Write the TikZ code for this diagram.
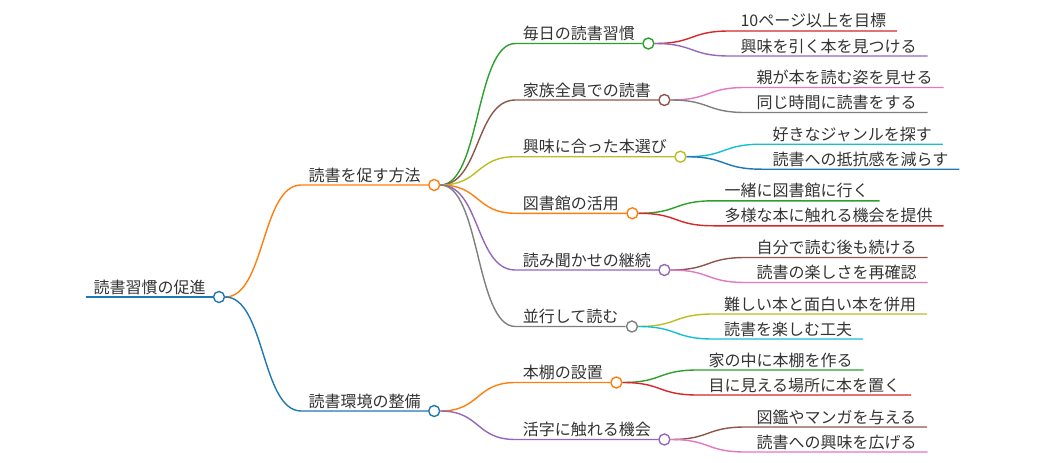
\documentclass[tikz,border=0pt]{standalone}
\usepackage{fontspec}
\setmainfont{Noto Sans CJK JP}
\usepackage{tikz}

\definecolor{cblue}{HTML}{1F77B4}
\definecolor{corange}{HTML}{FF7F0E}
\definecolor{cgreen}{HTML}{2CA02C}
\definecolor{cred}{HTML}{D62728}
\definecolor{cpurple}{HTML}{9467BD}
\definecolor{cbrown}{HTML}{8C564B}
\definecolor{cpink}{HTML}{E377C2}
\definecolor{cgray}{HTML}{7F7F7F}
\definecolor{colive}{HTML}{BCBD22}
\definecolor{ccyan}{HTML}{17BECF}
\definecolor{ctext}{HTML}{333333}

\tikzset{
  topic/.style={anchor=south west, inner xsep=7.5pt, inner ysep=4pt, outer sep=0pt,
    text depth=0pt, text=ctext, font=\fontsize{16}{18}\selectfont},
  leaf/.style={topic, inner xsep=11pt},
  dot/.style={circle, draw, fill=white, minimum size=11pt, inner sep=0pt, line width=1.4pt},
}

\begin{document}
\begin{tikzpicture}[x=1pt, y=-1pt, line width=1.4pt]
\useasboundingbox (0,0) rectangle (1044,463);

%Root of the map
\node[topic] (root) at (86,297) {読書習慣の促進};
\node[dot, draw=cblue] (r0) at ([xshift=6pt]root.south east) {};
\draw[cblue] (root.south west) -- (r0.west);

%First main branch
\node[topic] (m1) at ([xshift=76pt,yshift=112pt]r0.east) {読書を促す方法};
\node[dot, draw=corange] (c1) at ([xshift=6pt]m1.south east) {};
\draw[corange] (r0.east) .. controls +(40,0) and +(-40,0) .. (m1.south west) -- (c1.west);

%Second main branch
\node[topic] (m2) at ([xshift=76pt,yshift=-114pt]r0.east) {読書環境の整備};
\node[dot, draw=cblue] (c2) at ([xshift=6pt]m2.south east) {};
\draw[cblue] (r0.east) .. controls +(40,0) and +(-40,0) .. (m2.south west) -- (c2.west);

%Ways to encourage reading
\node[topic] (s1) at ([xshift=75pt,yshift=141.5pt]c1.east) {毎日の読書習慣};
\node[dot, draw=cgreen] (d1) at ([xshift=6pt]s1.south east) {};
\draw[cgreen] (c1.east) .. controls +(40,0) and +(-40,0) .. (s1.south west) -- (d1.west);

\node[topic] (s2) at ([xshift=75pt,yshift=85pt]c1.east) {家族全員での読書};
\node[dot, draw=cbrown] (d2) at ([xshift=6pt]s2.south east) {};
\draw[cbrown] (c1.east) .. controls +(40,0) and +(-40,0) .. (s2.south west) -- (d2.west);

\node[topic] (s3) at ([xshift=75pt,yshift=28.3pt]c1.east) {興味に合った本選び};
\node[dot, draw=colive] (d3) at ([xshift=6pt]s3.south east) {};
\draw[colive] (c1.east) .. controls +(40,0) and +(-40,0) .. (s3.south west) -- (d3.west);

\node[topic] (s4) at ([xshift=75pt,yshift=-28.3pt]c1.east) {図書館の活用};
\node[dot, draw=corange] (d4) at ([xshift=6pt]s4.south east) {};
\draw[corange] (c1.east) .. controls +(40,0) and +(-40,0) .. (s4.south west) -- (d4.west);

\node[topic] (s5) at ([xshift=75pt,yshift=-85pt]c1.east) {読み聞かせの継続};
\node[dot, draw=cpurple] (d5) at ([xshift=6pt]s5.south east) {};
\draw[cpurple] (c1.east) .. controls +(40,0) and +(-40,0) .. (s5.south west) -- (d5.west);

\node[topic] (s6) at ([xshift=75pt,yshift=-141.5pt]c1.east) {並行して読む};
\node[dot, draw=cgray] (d6) at ([xshift=6pt]s6.south east) {};
\draw[cgray] (c1.east) .. controls +(40,0) and +(-40,0) .. (s6.south west) -- (d6.west);

%Reading environment
\node[topic] (s7) at ([xshift=75pt,yshift=28.5pt]c2.east) {本棚の設置};
\node[dot, draw=corange] (d7) at ([xshift=6pt]s7.south east) {};
\draw[corange] (c2.east) .. controls +(40,0) and +(-40,0) .. (s7.south west) -- (d7.west);

\node[topic] (s8) at ([xshift=75pt,yshift=-28.5pt]c2.east) {活字に触れる機会};
\node[dot, draw=cpurple] (d8) at ([xshift=6pt]s8.south east) {};
\draw[cpurple] (c2.east) .. controls +(40,0) and +(-40,0) .. (s8.south west) -- (d8.west);

%Leaves
\node[leaf] (t1a) at ([xshift=75pt,yshift=12.5pt]d1.east) {10ページ以上を目標};
\draw[cred] (d1.east) .. controls +(40,0) and +(-40,0) .. (t1a.south west) -- (t1a.south east);
\node[leaf] (t1b) at ([xshift=75pt,yshift=-12.5pt]d1.east) {興味を引く本を見つける};
\draw[cpurple] (d1.east) .. controls +(40,0) and +(-40,0) .. (t1b.south west) -- (t1b.south east);

\node[leaf] (t2a) at ([xshift=75pt,yshift=12.5pt]d2.east) {親が本を読む姿を見せる};
\draw[cpink] (d2.east) .. controls +(40,0) and +(-40,0) .. (t2a.south west) -- (t2a.south east);
\node[leaf] (t2b) at ([xshift=75pt,yshift=-12.5pt]d2.east) {同じ時間に読書をする};
\draw[cgray] (d2.east) .. controls +(40,0) and +(-40,0) .. (t2b.south west) -- (t2b.south east);

\node[leaf] (t3a) at ([xshift=75pt,yshift=12.5pt]d3.east) {好きなジャンルを探す};
\draw[ccyan] (d3.east) .. controls +(40,0) and +(-40,0) .. (t3a.south west) -- (t3a.south east);
\node[leaf] (t3b) at ([xshift=75pt,yshift=-12.5pt]d3.east) {読書への抵抗感を減らす};
\draw[cblue] (d3.east) .. controls +(40,0) and +(-40,0) .. (t3b.south west) -- (t3b.south east);

\node[leaf] (t4a) at ([xshift=75pt,yshift=12.5pt]d4.east) {一緒に図書館に行く};
\draw[cgreen] (d4.east) .. controls +(40,0) and +(-40,0) .. (t4a.south west) -- (t4a.south east);
\node[leaf] (t4b) at ([xshift=75pt,yshift=-12.5pt]d4.east) {多様な本に触れる機会を提供};
\draw[cred] (d4.east) .. controls +(40,0) and +(-40,0) .. (t4b.south west) -- (t4b.south east);

\node[leaf] (t5a) at ([xshift=75pt,yshift=12.5pt]d5.east) {自分で読む後も続ける};
\draw[cbrown] (d5.east) .. controls +(40,0) and +(-40,0) .. (t5a.south west) -- (t5a.south east);
\node[leaf] (t5b) at ([xshift=75pt,yshift=-12.5pt]d5.east) {読書の楽しさを再確認};
\draw[cpink] (d5.east) .. controls +(40,0) and +(-40,0) .. (t5b.south west) -- (t5b.south east);

\node[leaf] (t6a) at ([xshift=75pt,yshift=12.5pt]d6.east) {難しい本と面白い本を併用};
\draw[colive] (d6.east) .. controls +(40,0) and +(-40,0) .. (t6a.south west) -- (t6a.south east);
\node[leaf] (t6b) at ([xshift=75pt,yshift=-12.5pt]d6.east) {読書を楽しむ工夫};
\draw[ccyan] (d6.east) .. controls +(40,0) and +(-40,0) .. (t6b.south west) -- (t6b.south east);

\node[leaf] (t7a) at ([xshift=75pt,yshift=12.5pt]d7.east) {家の中に本棚を作る};
\draw[cgreen] (d7.east) .. controls +(40,0) and +(-40,0) .. (t7a.south west) -- (t7a.south east);
\node[leaf] (t7b) at ([xshift=75pt,yshift=-12.5pt]d7.east) {目に見える場所に本を置く};
\draw[cred] (d7.east) .. controls +(40,0) and +(-40,0) .. (t7b.south west) -- (t7b.south east);

\node[leaf] (t8a) at ([xshift=75pt,yshift=12.5pt]d8.east) {図鑑やマンガを与える};
\draw[cbrown] (d8.east) .. controls +(40,0) and +(-40,0) .. (t8a.south west) -- (t8a.south east);
\node[leaf] (t8b) at ([xshift=75pt,yshift=-12.5pt]d8.east) {読書への興味を広げる};
\draw[cpink] (d8.east) .. controls +(40,0) and +(-40,0) .. (t8b.south west) -- (t8b.south east);
\end{tikzpicture}
\end{document}
